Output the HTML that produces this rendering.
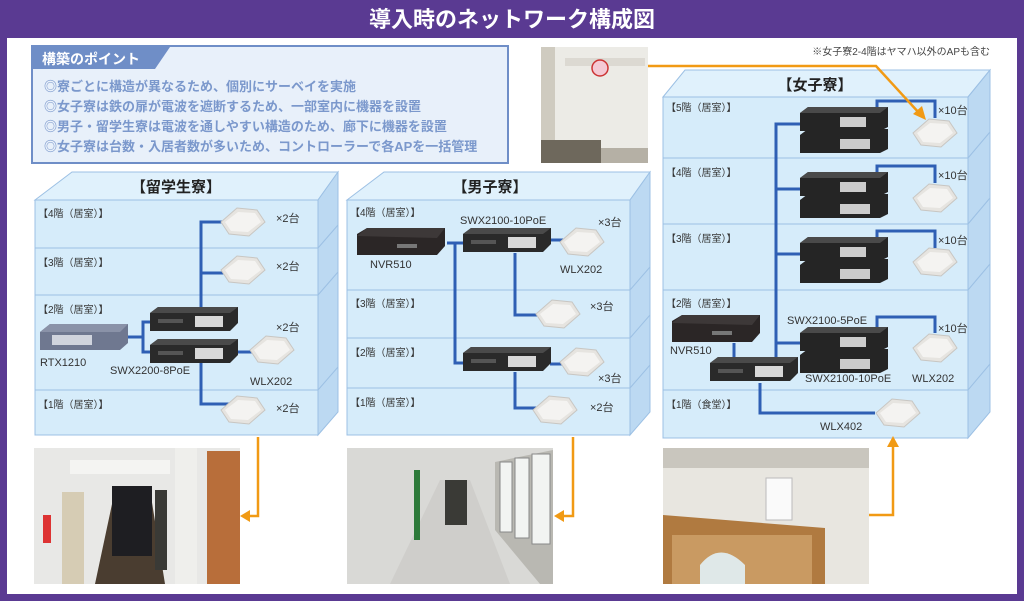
<!DOCTYPE html>
<html><head><meta charset="utf-8">
<style>
html,body{margin:0;padding:0;background:#5a3a92;}
svg{display:block;font-family:"Liberation Sans","Noto Sans CJK JP",sans-serif;}
.t{font-size:11px;fill:#333;}
.f{font-size:10px;fill:#333;}
.d{font-size:11px;fill:#333;}
</style></head><body>
<svg width="1024" height="601" viewBox="0 0 1024 601" xmlns="http://www.w3.org/2000/svg">
<defs>
<g id="ap"><polygon points="-22,0 -6,-14 14,-12 22,0 6,14 -14,12" fill="#e6e4e0" stroke="#c8c6c2"/><polygon points="-18,0 -5,-10 12,-9 18,0 5,10 -12,9" fill="#f4f3f1"/></g>
<g id="sw"><polygon points="0,6 8,0 88,0 88,16 80,24 0,24" fill="#2a2a2a"/><polygon points="0,6 8,0 88,0 80,6" fill="#4a4a4a"/><rect x="45" y="9" width="28" height="11" fill="#d8d8d8"/><rect x="8" y="12" width="25" height="4" fill="#555"/></g>
<g id="sw2"><polygon points="0,6 8,0 88,0 88,20 80,24 0,24" fill="#252525"/><polygon points="0,6 8,0 88,0 80,6" fill="#4a4a4a"/><rect x="40" y="10" width="26" height="10" fill="#ccc"/><polygon points="0,28 8,22 88,22 88,42 80,46 0,46" fill="#252525"/><rect x="40" y="32" width="30" height="10" fill="#ccc"/></g>
<g id="nvr"><polygon points="0,6 10,0 88,0 88,18 80,27 0,27" fill="#2b2626"/><polygon points="0,8 10,0 88,0 80,10" fill="#3d3838"/><rect x="40" y="16" width="20" height="4" fill="#777"/></g>
</defs>
<rect width="1024" height="601" fill="#5a3a92"/>
<rect x="7" y="38" width="1010" height="556" fill="#fff"/>
<text x="512" y="27" text-anchor="middle" font-size="22" font-weight="bold" fill="#fff">導入時のネットワーク構成図</text>

<rect x="32" y="46" width="476" height="117" fill="#e8f0fa" stroke="#6f8ec7" stroke-width="2"/>
<polygon points="33,47 170,47 155,69 33,69" fill="#6f8ec7"/>
<text x="42" y="64" font-size="14" font-weight="bold" fill="#fff">構築のポイント</text>
<g font-size="13" font-weight="bold" fill="#7b98cc">
<text x="44" y="91">◎寮ごとに構造が異なるため、個別にサーベイを実施</text>
<text x="44" y="111">◎女子寮は鉄の扉が電波を遮断するため、一部室内に機器を設置</text>
<text x="44" y="131">◎男子・留学生寮は電波を通しやすい構造のため、廊下に機器を設置</text>
<text x="44" y="151">◎女子寮は台数・入居者数が多いため、コントローラーで各APを一括管理</text>
</g>

<rect x="541" y="47" width="107" height="116" fill="#ecebe6"/>
<rect x="541" y="47" width="14" height="116" fill="#cfcbc0"/>
<rect x="565" y="58" width="80" height="8" fill="#dcd9d2"/>
<circle cx="600" cy="68" r="8" fill="#f4c9d4" stroke="#c33" stroke-width="1.5"/>
<rect x="541" y="140" width="60" height="23" fill="#6e685c"/>
<rect x="601" y="148" width="47" height="15" fill="#b5b0a5"/>

<g stroke="#9cc0e4" stroke-width="1">
<polygon points="35,200 72,172 338,172 318,200" fill="#e0f1fc"/>
<polygon points="318,200 338,172 338,412 318,435" fill="#bcd9f2"/>
<rect x="35" y="200" width="283" height="235" fill="#d6ecfa"/>
<line x1="35" y1="248" x2="318" y2="248"/><line x1="35" y1="295" x2="318" y2="295"/><line x1="35" y1="390" x2="318" y2="390"/>
<line x1="318" y1="248" x2="338" y2="225"/><line x1="318" y1="295" x2="338" y2="272"/><line x1="318" y1="390" x2="338" y2="367"/>

<polygon points="347,200 384,172 650,172 630,200" fill="#e0f1fc"/>
<polygon points="630,200 650,172 650,412 630,435" fill="#bcd9f2"/>
<rect x="347" y="200" width="283" height="235" fill="#d6ecfa"/>
<line x1="347" y1="290" x2="630" y2="290"/><line x1="347" y1="338" x2="630" y2="338"/><line x1="347" y1="388" x2="630" y2="388"/>
<line x1="630" y1="290" x2="650" y2="267"/><line x1="630" y1="338" x2="650" y2="315"/><line x1="630" y1="388" x2="650" y2="365"/>

<polygon points="663,97 685,70 990,70 968,97" fill="#e0f1fc"/>
<polygon points="968,97 990,70 990,412 968,438" fill="#bcd9f2"/>
<rect x="663" y="97" width="305" height="341" fill="#d6ecfa"/>
<line x1="663" y1="158" x2="968" y2="158"/><line x1="663" y1="224" x2="968" y2="224"/><line x1="663" y1="290" x2="968" y2="290"/><line x1="663" y1="390" x2="968" y2="390"/>
<line x1="968" y1="158" x2="990" y2="132"/><line x1="968" y1="224" x2="990" y2="198"/><line x1="968" y1="290" x2="990" y2="264"/><line x1="968" y1="390" x2="990" y2="364"/>
</g>
<g font-size="15" font-weight="bold" fill="#222" text-anchor="middle">
<text x="176" y="192">【留学生寮】</text><text x="490" y="192">【男子寮】</text><text x="815" y="90">【女子寮】</text>
</g>
<g class="f">
<text x="38" y="217">【4階（居室）】</text><text x="38" y="266">【3階（居室）】</text><text x="38" y="313">【2階（居室）】</text><text x="38" y="408">【1階（居室）】</text>
<text x="350" y="216">【4階（居室）】</text><text x="350" y="307">【3階（居室）】</text><text x="350" y="356">【2階（居室）】</text><text x="350" y="406">【1階（居室）】</text>
<text x="666" y="111">【5階（居室）】</text><text x="666" y="176">【4階（居室）】</text><text x="666" y="242">【3階（居室）】</text><text x="666" y="307">【2階（居室）】</text><text x="666" y="408">【1階（食堂）】</text>
</g>
<text x="990" y="55" text-anchor="end" font-size="10" fill="#444">※女子寮2-4階はヤマハ以外のAPも含む</text>

<g stroke="#2f5fb4" stroke-width="3" fill="none">
<polyline points="243,222 201,222 201,310"/><line x1="201" y1="273" x2="243" y2="273"/>
<polyline points="201,360 201,404 240,404"/>
<polyline points="128,337 143,337"/><polyline points="150,322 143,322 143,352 150,352"/>
<line x1="237" y1="352" x2="260" y2="352"/>
<polyline points="447,243 463,243"/><polyline points="455,243 455,363 463,363"/>
<polyline points="515,253 515,315 555,315"/><line x1="550" y1="240" x2="565" y2="240"/><line x1="550" y1="364" x2="565" y2="364"/>
<polyline points="515,372 515,408 552,408"/>
<polyline points="800,124 776,124 776,370"/><line x1="776" y1="189" x2="800" y2="189"/><line x1="776" y1="254" x2="800" y2="254"/><line x1="776" y1="343" x2="800" y2="343"/>
<polyline points="877,108 877,101 935,101 935,118"/><polyline points="877,173 877,166 935,166 935,183"/><polyline points="877,238 877,231 935,231 935,248"/><polyline points="877,328 877,317 935,317 935,333"/>
<line x1="734" y1="343" x2="734" y2="358"/>
<polyline points="760,383 760,413 875,413"/>
</g>

<use href="#ap" x="243" y="222"/><use href="#ap" x="243" y="270"/><use href="#ap" x="272" y="350"/><use href="#ap" x="243" y="410"/>
<use href="#sw" x="150" y="307"/><use href="#sw" x="150" y="339"/>
<g><polygon points="40,332 50,324 128,324 128,343 120,350 40,350" fill="#6f7890"/><polygon points="40,332 50,324 128,324 120,332" fill="#8a92a8"/><rect x="52" y="335" width="40" height="10" fill="#d0d4dd"/></g>
<g class="d"><text x="276" y="222">×2台</text><text x="276" y="270">×2台</text><text x="276" y="331">×2台</text><text x="276" y="412">×2台</text>
<text x="40" y="366">RTX1210</text><text x="110" y="374">SWX2200-8PoE</text><text x="250" y="385">WLX202</text></g>

<use href="#nvr" x="357" y="228"/><use href="#sw" x="463" y="228"/><use href="#sw" x="463" y="347"/>
<use href="#ap" x="582" y="242"/><use href="#ap" x="558" y="314"/><use href="#ap" x="582" y="362"/><use href="#ap" x="555" y="410"/>
<g class="d"><text x="370" y="268">NVR510</text><text x="460" y="224">SWX2100-10PoE</text><text x="598" y="226">×3台</text><text x="560" y="273">WLX202</text>
<text x="590" y="310">×3台</text><text x="598" y="382">×3台</text><text x="590" y="411">×2台</text></g>

<use href="#sw2" x="800" y="107"/><use href="#sw2" x="800" y="172"/><use href="#sw2" x="800" y="237"/><use href="#sw2" x="800" y="327"/>
<use href="#nvr" x="672" y="315"/><use href="#sw" x="710" y="357"/>
<use href="#ap" x="935" y="133"/><use href="#ap" x="935" y="198"/><use href="#ap" x="935" y="262"/><use href="#ap" x="935" y="348"/><use href="#ap" x="898" y="413"/>
<g class="d"><text x="938" y="114">×10台</text><text x="938" y="179">×10台</text><text x="938" y="244">×10台</text><text x="938" y="332">×10台</text>
<text x="670" y="354">NVR510</text><text x="787" y="324">SWX2100-5PoE</text><text x="805" y="382">SWX2100-10PoE</text><text x="912" y="382">WLX202</text><text x="820" y="430">WLX402</text></g>

<!-- photos -->
<rect x="34" y="448" width="206" height="136" fill="#e8e8e6"/>
<rect x="70" y="460" width="100" height="14" fill="#f4f4f2"/>
<polygon points="95,584 115,490 150,490 165,584" fill="#4a3d30"/>
<rect x="112" y="486" width="40" height="70" fill="#1e1e22"/>
<rect x="62" y="492" width="22" height="92" fill="#d6ccb4"/>
<rect x="155" y="490" width="12" height="80" fill="#3a3a36"/>
<rect x="175" y="448" width="22" height="136" fill="#efefec"/>
<rect x="207" y="451" width="33" height="133" fill="#b86e3a"/>
<rect x="43" y="515" width="8" height="28" fill="#d33"/>
<rect x="347" y="448" width="206" height="136" fill="#d9d9d6"/>
<polygon points="390,584 440,480 470,480 510,584" fill="#cfcecb"/>
<rect x="445" y="480" width="22" height="45" fill="#3a3a36"/>
<rect x="414" y="470" width="6" height="70" fill="#2d7a3a"/>
<polygon points="495,462 553,450 553,584 540,584 495,530" fill="#b9b8b2"/>
<rect x="500" y="462" width="12" height="70" fill="#f2f4f2" stroke="#888"/>
<rect x="515" y="458" width="14" height="80" fill="#f2f4f2" stroke="#888"/>
<rect x="532" y="454" width="18" height="90" fill="#f2f4f2" stroke="#888"/>
<rect x="663" y="448" width="206" height="136" fill="#e8e6e0"/>
<rect x="663" y="448" width="206" height="20" fill="#c9c6be"/>
<polygon points="663,515 825,528 825,584 663,584" fill="#b07a40"/>
<rect x="672" y="535" width="140" height="49" fill="#c99a62"/>
<path d="M700,584 L700,565 Q720,540 745,565 L745,584 Z" fill="#dfe8e8"/>
<rect x="766" y="478" width="26" height="42" fill="#fafafa" stroke="#bbb"/>

<g stroke="#f19a14" stroke-width="2.5" fill="none">
<polyline points="258,437 258,516 246,516"/>
<polyline points="573,437 573,516 560,516"/>
<polyline points="869,515 893,515 893,442"/>
<polyline points="648,66 876,66 920,114"/>
</g>
<g fill="#f19a14">
<polygon points="240,516 250,510 250,522"/><polygon points="554,516 564,510 564,522"/>
<polygon points="893,436 887,447 899,447"/><polygon points="926,120 913,114 922,106"/>
</g>
</svg>
</body></html>
